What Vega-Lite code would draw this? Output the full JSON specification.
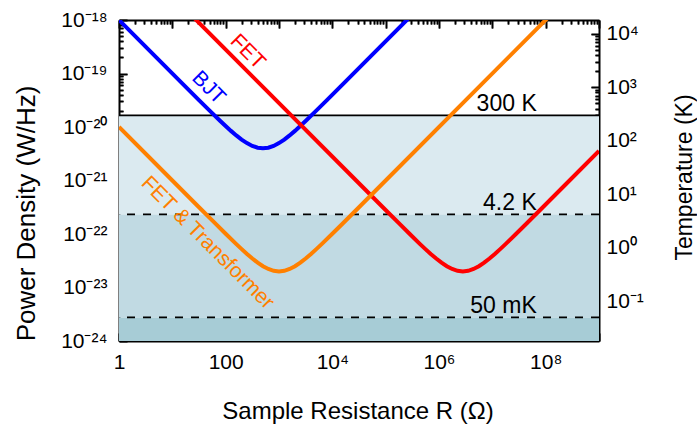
{
  "$schema": "https://vega.github.io/schema/vega-lite/v6.json",
  "width": 480,
  "height": 321,
  "autosize": "none",
  "padding": {"left": 119, "top": 20, "right": 98, "bottom": 84},
  "config": {
    "view": {"stroke": null},
    "font": "Liberation Sans",
    "axis": {
      "grid": false,
      "ticks": true,
      "domainColor": "black",
      "domainWidth": 2,
      "tickColor": "black",
      "tickOpacity": 1,
      "tickWidth": 1.6,
      "gridColor": "black",
      "gridWidth": 1.6,
      "gridOpacity": 1,
      "labelFont": "Liberation Sans",
      "labelFontSize": 21,
      "labelColor": "black",
      "titleFont": "Liberation Sans",
      "titleFontSize": 23,
      "titleFontWeight": "normal",
      "titleColor": "black",
      "labelOverlap": false,
      "labelFlush": false,
      "labelBound": false,
      "zindex": 2
    }
  },
  "datasets": {
    "anchor": [{"R": 1, "P": 1e-20, "T": 1}]
  },
  "layer": [
    {
      "data": {"values": [
        {"zone": "room", "T": 300, "Tlo": 4.2, "line": "solid", "label": "300 K", "R": 68000000},
        {"zone": "helium", "T": 4.2, "Tlo": 0.05, "line": "dashed", "label": "4.2 K", "R": 68000000},
        {"zone": "mk", "T": 0.05, "Tlo": 0.018116, "line": "dashed", "label": "50 mK", "R": 68000000}
      ]},
      "encoding": {
        "y": {
          "field": "T", "type": "quantitative",
          "scale": {"type": "log", "domain": [0.018116, 18116]},
          "axis": {
            "orient": "right", "offset": -8, "domain": false, "tickSize": 8,
            "title": "Temperature (K)",
            "titleAngle": 270,
            "titleX": 93, "titleY": 157,
            "titleAlign": "center", "titleBaseline": "middle",
            "values": [0.1, 1, 10, 100, 1000, 10000],
            "labelExpr": "['10⁻¹','10⁰','10¹','10²','10³','10⁴'][round(log(datum.value)/LN10)+1]",
            "labelPadding": 7,
            "labelAlign": "left",
            "labelBaseline": "middle"
          }
        }
      },
      "layer": [
        {
          "mark": {"type": "rect"},
          "encoding": {
            "y2": {"field": "Tlo"},
            "color": {"field": "zone", "type": "nominal", "legend": null,
              "scale": {"domain": ["room", "helium", "mk"], "range": ["#dbeaf0", "#c1dae3", "#a7ccd6"]}}
          }
        },
        {
          "mark": {"type": "rule", "color": "black", "strokeWidth": 1.8},
          "encoding": {
            "strokeDash": {"field": "line", "type": "nominal", "legend": null,
              "scale": {"domain": ["solid", "dashed"], "range": [[1, 0], [8, 8]]}}
          }
        },
        {
          "mark": {"type": "text", "align": "right", "baseline": "alphabetic", "dy": -4, "fontSize": 23, "color": "black", "font": "Liberation Sans"},
          "encoding": {
            "x": {
              "field": "R", "type": "quantitative",
              "scale": {"type": "log", "domain": [1, 1000000000]},
              "axis": {
                "orient": "top", "offset": -8, "domain": false, "title": null, "labels": false, "tickSize": 8,
                "values": [1,10,100,1000,10000,100000,1000000,10000000,100000000,1000000000]
              }
            },
            "text": {"field": "label"}
          }
        }
      ]
    },
    {
      "encoding": {
        "x": {
          "field": "R", "type": "quantitative",
          "scale": {"type": "log", "domain": [1, 1000000000]},
          "axis": {
            "orient": "bottom", "offset": -8, "domain": false, "tickSize": 8,
            "title": "Sample Resistance R (Ω)",
            "titleFontSize": 24,
            "titleX": 238.5, "titleY": 85,
            "titleAlign": "center", "titleBaseline": "alphabetic",
            "values": [1,10,100,1000,10000,100000,1000000,10000000,100000000,1000000000],
            "labelExpr": "['1','','100','','10⁴','','10⁶','','10⁸',''][round(log(datum.value)/LN10)]",
            "labelPadding": 10
          }
        },
        "y": {
          "field": "P", "type": "quantitative",
          "scale": {"type": "log", "domain": [1e-24, 1e-18]},
          "axis": {
            "orient": "left", "offset": -8, "domain": false, "tickSize": 8,
            "title": "Power Density (W/Hz)",
            "titleAngle": 270,
            "titleX": -101, "titleY": 193,
            "titleAlign": "center", "titleBaseline": "middle",
            "titleFontSize": 26,
            "values": [1e-24, 1e-23, 1e-22, 1e-21, 1e-20, 1e-19, 1e-18],
            "labelExpr": "['10⁻²⁴','10⁻²³','10⁻²²','10⁻²¹','10⁻²⁰','10⁻¹⁹','10⁻¹⁸'][round(log(datum.value)/LN10)+24]",
            "labelPadding": 12,
            "labelBaseline": "middle"
          }
        },
        "color": {"field": "series", "type": "nominal", "legend": null,
          "scale": {"domain": ["BJT", "FET", "FET & Transformer"], "range": ["#0000ff", "#ff0000", "#ff8000"]}}
      },
      "layer": [
        {
          "data": {"values": [
            {"series": "BJT", "R": 1, "P": 1.0e-18},
            {"series": "BJT", "R": 5, "P": 2.0002e-19},
            {"series": "BJT", "R": 15.81, "P": 6.33e-20},
            {"series": "BJT", "R": 31.55, "P": 3.182e-20},
            {"series": "BJT", "R": 50, "P": 2.02e-20},
            {"series": "BJT", "R": 79.24, "P": 1.2936e-20},
            {"series": "BJT", "R": 99.76, "P": 1.0423e-20},
            {"series": "BJT", "R": 125.6, "P": 8.464e-21},
            {"series": "BJT", "R": 158.1, "P": 6.957e-21},
            {"series": "BJT", "R": 199.1, "P": 5.82e-21},
            {"series": "BJT", "R": 250.6, "P": 4.993e-21},
            {"series": "BJT", "R": 315.5, "P": 4.432e-21},
            {"series": "BJT", "R": 397.2, "P": 4.106e-21},
            {"series": "BJT", "R": 500, "P": 4.0e-21},
            {"series": "BJT", "R": 629.5, "P": 4.106e-21},
            {"series": "BJT", "R": 792.4, "P": 4.432e-21},
            {"series": "BJT", "R": 997.6, "P": 4.993e-21},
            {"series": "BJT", "R": 1256, "P": 5.82e-21},
            {"series": "BJT", "R": 1581, "P": 6.957e-21},
            {"series": "BJT", "R": 1991, "P": 8.464e-21},
            {"series": "BJT", "R": 2506, "P": 1.0423e-20},
            {"series": "BJT", "R": 3155, "P": 1.2936e-20},
            {"series": "BJT", "R": 5000, "P": 2.02e-20},
            {"series": "BJT", "R": 7924, "P": 3.182e-20},
            {"series": "BJT", "R": 15811, "P": 6.33e-20},
            {"series": "BJT", "R": 50000, "P": 2.0002e-19},
            {"series": "BJT", "R": 500000, "P": 2.0e-18},
            {"series": "FET", "R": 10, "P": 2.8e-18},
            {"series": "FET", "R": 28000, "P": 1.0001e-21},
            {"series": "FET", "R": 88544, "P": 3.1654e-22},
            {"series": "FET", "R": 176670, "P": 1.5912e-22},
            {"series": "FET", "R": 280000, "P": 1.01e-22},
            {"series": "FET", "R": 441790, "P": 6.468e-23},
            {"series": "FET", "R": 556170, "P": 5.2114e-23},
            {"series": "FET", "R": 700180, "P": 4.2322e-23},
            {"series": "FET", "R": 885440, "P": 3.4786e-23},
            {"series": "FET", "R": 1114700, "P": 2.91e-23},
            {"series": "FET", "R": 1403300, "P": 2.4964e-23},
            {"series": "FET", "R": 1766700, "P": 2.2158e-23},
            {"series": "FET", "R": 2224100, "P": 2.0532e-23},
            {"series": "FET", "R": 2800000, "P": 2.0e-23},
            {"series": "FET", "R": 3525000, "P": 2.0532e-23},
            {"series": "FET", "R": 4437700, "P": 2.2158e-23},
            {"series": "FET", "R": 5586700, "P": 2.4964e-23},
            {"series": "FET", "R": 7033300, "P": 2.91e-23},
            {"series": "FET", "R": 8854400, "P": 3.4786e-23},
            {"series": "FET", "R": 11147000, "P": 4.2322e-23},
            {"series": "FET", "R": 14033000, "P": 5.2114e-23},
            {"series": "FET", "R": 17667000, "P": 6.468e-23},
            {"series": "FET", "R": 28000000, "P": 1.01e-22},
            {"series": "FET", "R": 44377000, "P": 1.5912e-22},
            {"series": "FET", "R": 88544000, "P": 3.1654e-22},
            {"series": "FET", "R": 280000000, "P": 1.0001e-21},
            {"series": "FET", "R": 1000000000, "P": 3.571e-21},
            {"series": "FET & Transformer", "R": 1, "P": 1.0e-20},
            {"series": "FET & Transformer", "R": 10, "P": 1.0001e-21},
            {"series": "FET & Transformer", "R": 31.62, "P": 3.1654e-22},
            {"series": "FET & Transformer", "R": 63.1, "P": 1.5912e-22},
            {"series": "FET & Transformer", "R": 100, "P": 1.01e-22},
            {"series": "FET & Transformer", "R": 158.5, "P": 6.468e-23},
            {"series": "FET & Transformer", "R": 199.5, "P": 5.2114e-23},
            {"series": "FET & Transformer", "R": 251.2, "P": 4.2322e-23},
            {"series": "FET & Transformer", "R": 316.2, "P": 3.4786e-23},
            {"series": "FET & Transformer", "R": 398.1, "P": 2.91e-23},
            {"series": "FET & Transformer", "R": 501.2, "P": 2.4964e-23},
            {"series": "FET & Transformer", "R": 631, "P": 2.2158e-23},
            {"series": "FET & Transformer", "R": 794.3, "P": 2.0532e-23},
            {"series": "FET & Transformer", "R": 1000, "P": 2.0e-23},
            {"series": "FET & Transformer", "R": 1258.9, "P": 2.0532e-23},
            {"series": "FET & Transformer", "R": 1584.9, "P": 2.2158e-23},
            {"series": "FET & Transformer", "R": 1995.3, "P": 2.4964e-23},
            {"series": "FET & Transformer", "R": 2511.9, "P": 2.91e-23},
            {"series": "FET & Transformer", "R": 3162.3, "P": 3.4786e-23},
            {"series": "FET & Transformer", "R": 3981.1, "P": 4.2322e-23},
            {"series": "FET & Transformer", "R": 5011.9, "P": 5.2114e-23},
            {"series": "FET & Transformer", "R": 6309.6, "P": 6.468e-23},
            {"series": "FET & Transformer", "R": 10000, "P": 1.01e-22},
            {"series": "FET & Transformer", "R": 15849, "P": 1.5912e-22},
            {"series": "FET & Transformer", "R": 31623, "P": 3.1654e-22},
            {"series": "FET & Transformer", "R": 100000, "P": 1.0001e-21},
            {"series": "FET & Transformer", "R": 1000000000, "P": 1.0e-17}
          ]},
          "mark": {"type": "line", "strokeWidth": 4, "clip": true}
        },
        {
          "data": {"values": [
            {"series": "FET", "R": 256, "P": 2.52e-19, "text": "FET"},
            {"series": "BJT", "R": 47.5, "P": 5.36e-20, "text": "BJT"},
            {"series": "FET & Transformer", "R": 45.6, "P": 6.79e-23, "text": "FET & Transformer"}
          ]},
          "mark": {"type": "text", "angle": 45, "align": "center", "baseline": "middle", "fontSize": 21, "font": "Liberation Sans"},
          "encoding": {"text": {"field": "text"}}
        }
      ]
    },
    {
      "data": {"name": "anchor"},
      "mark": {"type": "point", "opacity": 0},
      "encoding": {
        "x": {
          "field": "R", "type": "quantitative",
          "scale": {"type": "log", "domain": [1, 1000000000]},
          "axis": {
            "orient": "bottom", "offset": -4, "title": null, "labels": false, "domain": false, "tickSize": 4,
            "values": [2,3,4,5,6,7,8,9,20,30,40,50,60,70,80,90,200,300,400,500,600,700,800,900,2000,3000,4000,5000,6000,7000,8000,9000,20000,30000,40000,50000,60000,70000,80000,90000,200000,300000,400000,500000,600000,700000,800000,900000,2000000,3000000,4000000,5000000,6000000,7000000,8000000,9000000,20000000,30000000,40000000,50000000,60000000,70000000,80000000,90000000,200000000,300000000,400000000,500000000,600000000,700000000,800000000,900000000]
          }
        },
        "y": {
          "field": "P", "type": "quantitative",
          "scale": {"type": "log", "domain": [1e-24, 1e-18]},
          "axis": {
            "orient": "left", "offset": -4, "title": null, "labels": false, "domain": false, "tickSize": 4,
            "values": [2e-24,3e-24,4e-24,5e-24,6e-24,7e-24,8e-24,9e-24,2e-23,3e-23,4e-23,5e-23,6e-23,7e-23,8e-23,9e-23,2e-22,3e-22,4e-22,5e-22,6e-22,7e-22,8e-22,9e-22,2e-21,3e-21,4e-21,5e-21,6e-21,7e-21,8e-21,9e-21,2e-20,3e-20,4e-20,5e-20,6e-20,7e-20,8e-20,9e-20,2e-19,3e-19,4e-19,5e-19,6e-19,7e-19,8e-19,9e-19]
          }
        }
      }
    },
    {
      "data": {"name": "anchor"},
      "mark": {"type": "point", "opacity": 0},
      "encoding": {
        "x": {
          "field": "R", "type": "quantitative",
          "scale": {"type": "log", "domain": [1, 1000000000]},
          "axis": {
            "orient": "top", "offset": -4, "title": null, "labels": false, "domain": false, "tickSize": 4,
            "values": [2,3,4,5,6,7,8,9,20,30,40,50,60,70,80,90,200,300,400,500,600,700,800,900,2000,3000,4000,5000,6000,7000,8000,9000,20000,30000,40000,50000,60000,70000,80000,90000,200000,300000,400000,500000,600000,700000,800000,900000,2000000,3000000,4000000,5000000,6000000,7000000,8000000,9000000,20000000,30000000,40000000,50000000,60000000,70000000,80000000,90000000,200000000,300000000,400000000,500000000,600000000,700000000,800000000,900000000]
          }
        },
        "y": {
          "field": "T", "type": "quantitative",
          "scale": {"type": "log", "domain": [0.018116, 18116]},
          "axis": {
            "orient": "right", "offset": -4, "title": null, "labels": false, "domain": false, "tickSize": 4,
            "values": [0.02,0.03,0.04,0.05,0.06,0.07,0.08,0.09,0.2,0.3,0.4,0.5,0.6,0.7,0.8,0.9,2,3,4,5,6,7,8,9,20,30,40,50,60,70,80,90,200,300,400,500,600,700,800,900,2000,3000,4000,5000,6000,7000,8000,9000]
          }
        }
      }
    },
    {
      "data": {"name": "anchor"},
      "mark": {"type": "point", "opacity": 0},
      "encoding": {
        "x": {
          "field": "R", "type": "quantitative",
          "scale": {"type": "log", "domain": [1, 1000000000]},
          "axis": {
            "orient": "bottom", "title": null, "labels": false, "ticks": false, "domain": true,
            "grid": true,
            "values": [1,2,3,4,5,6,7,8,9,10,20,30,40,50,60,70,80,90,100,200,300,400,500,600,700,800,900,1000,2000,3000,4000,5000,6000,7000,8000,9000,10000,20000,30000,40000,50000,60000,70000,80000,90000,100000,200000,300000,400000,500000,600000,700000,800000,900000,1000000,2000000,3000000,4000000,5000000,6000000,7000000,8000000,9000000,10000000,20000000,30000000,40000000,50000000,60000000,70000000,80000000,90000000,100000000,200000000,300000000,400000000,500000000,600000000,700000000,800000000,900000000,1000000000],
            "gridDash": {"condition": {"test": "abs(log(datum.value)/LN10 - round(log(datum.value)/LN10)) < 0.001", "value": [8, 2000]}, "value": [4, 2000]}
          }
        },
        "y": {
          "field": "P", "type": "quantitative",
          "scale": {"type": "log", "domain": [1e-24, 1e-18]},
          "axis": {
            "orient": "left", "title": null, "labels": false, "ticks": false, "domain": true,
            "grid": true,
            "values": [1e-24,2e-24,3e-24,4e-24,5e-24,6e-24,7e-24,8e-24,9e-24,1e-23,2e-23,3e-23,4e-23,5e-23,6e-23,7e-23,8e-23,9e-23,1e-22,2e-22,3e-22,4e-22,5e-22,6e-22,7e-22,8e-22,9e-22,1e-21,2e-21,3e-21,4e-21,5e-21,6e-21,7e-21,8e-21,9e-21,1e-20,2e-20,3e-20,4e-20,5e-20,6e-20,7e-20,8e-20,9e-20,1e-19,2e-19,3e-19,4e-19,5e-19,6e-19,7e-19,8e-19,9e-19,1e-18],
            "gridDash": {"condition": {"test": "abs(log(datum.value)/LN10 - round(log(datum.value)/LN10)) < 0.001", "value": [8, 2000]}, "value": [4, 2000]}
          }
        }
      }
    },
    {
      "data": {"name": "anchor"},
      "mark": {"type": "point", "opacity": 0},
      "encoding": {
        "x": {
          "field": "R", "type": "quantitative",
          "scale": {"type": "log", "domain": [1, 1000000000]},
          "axis": {
            "orient": "top", "title": null, "labels": false, "ticks": false, "domain": true,
            "grid": true,
            "values": [1,2,3,4,5,6,7,8,9,10,20,30,40,50,60,70,80,90,100,200,300,400,500,600,700,800,900,1000,2000,3000,4000,5000,6000,7000,8000,9000,10000,20000,30000,40000,50000,60000,70000,80000,90000,100000,200000,300000,400000,500000,600000,700000,800000,900000,1000000,2000000,3000000,4000000,5000000,6000000,7000000,8000000,9000000,10000000,20000000,30000000,40000000,50000000,60000000,70000000,80000000,90000000,100000000,200000000,300000000,400000000,500000000,600000000,700000000,800000000,900000000,1000000000],
            "gridDash": {"condition": {"test": "abs(log(datum.value)/LN10 - round(log(datum.value)/LN10)) < 0.001", "value": [8, 2000]}, "value": [4, 2000]}
          }
        },
        "y": {
          "field": "T", "type": "quantitative",
          "scale": {"type": "log", "domain": [0.018116, 18116]},
          "axis": {
            "orient": "right", "title": null, "labels": false, "ticks": false, "domain": true,
            "grid": true,
            "values": [0.02,0.03,0.04,0.05,0.06,0.07,0.08,0.09,0.1,0.2,0.3,0.4,0.5,0.6,0.7,0.8,0.9,1,2,3,4,5,6,7,8,9,10,20,30,40,50,60,70,80,90,100,200,300,400,500,600,700,800,900,1000,2000,3000,4000,5000,6000,7000,8000,9000,10000],
            "gridDash": {"condition": {"test": "abs(log(datum.value)/LN10 - round(log(datum.value)/LN10)) < 0.001", "value": [8, 2000]}, "value": [4, 2000]}
          }
        }
      }
    }
  ],
  "resolve": {
    "scale": {"y": "independent", "color": "independent", "strokeDash": "independent"},
    "axis": {"x": "independent", "y": "independent"}
  }
}
